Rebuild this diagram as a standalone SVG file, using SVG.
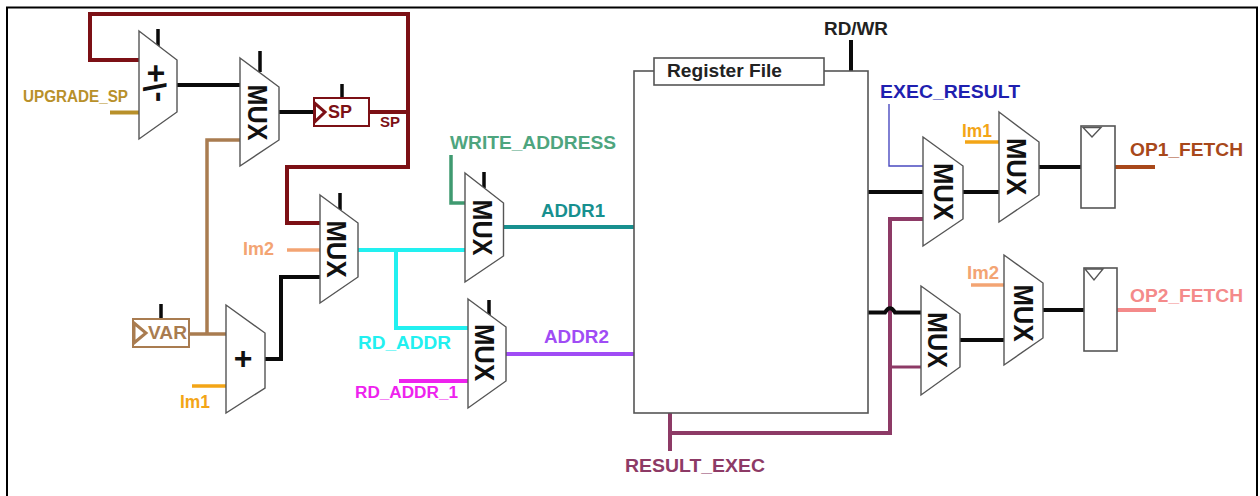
<svg xmlns="http://www.w3.org/2000/svg" width="1260" height="496" viewBox="0 0 1260 496">
<style>
text{font-family:"Liberation Sans",Arial,sans-serif;font-weight:700;font-size:17.5px}
.mux{fill:#fff;stroke:#555;stroke-width:1.4;stroke-linejoin:miter}
.box{fill:#fff;stroke:#555;stroke-width:1.6}
.mt{font-size:27px;fill:#111;text-anchor:middle}
.c{fill:none;stroke-linejoin:miter}
.k{stroke:#0a0a0a;stroke-width:4}
.t{stroke:#0a0a0a;stroke-width:3.5}
.r{stroke:#7c1015;stroke-width:4}
.b{stroke:#a97c50;stroke-width:3.5}
.y{stroke:#b8902a;stroke-width:4}
.o{stroke:#f3a516;stroke-width:3.5}
.p{stroke:#f3a473;stroke-width:3.5}
.a{stroke:#22f0f0;stroke-width:4}
.g{stroke:#3f9a70;stroke-width:3.5}
.e{stroke:#17908f;stroke-width:4}
.v{stroke:#a04cf5;stroke-width:4}
.m{stroke:#ee22ee;stroke-width:4}
.x{stroke:#8d3a66;stroke-width:4}
.u{stroke:#4a4ac0;stroke-width:1.4}
</style>
<rect width="1260" height="496" fill="#fff"/>
<path id="frame" d="M7 496V7.500H1257V496" fill="none" stroke="#000" stroke-width="2"/>
<g id="connectors">
<path class="c r" d="M139 60H90V14H408V167H287V223H320"/>
<path class="c r" d="M369 112H408"/>
<path class="c k" d="M177 85H240M279 112H316"/>
<path class="c y" d="M110 112.500H139"/>
<path class="c b" d="M240 140H207V334M189 334H227"/>
<path class="c o" d="M192 386H226"/>
<path class="c p" d="M287 250H320"/>
<path class="c k" d="M265 359H281V277H320"/>
<path class="c a" d="M356 250H466M396 250V328H469"/>
<path class="c g" d="M451 155V203H465"/>
<path class="c e" d="M503 227H634"/>
<path class="c v" d="M506 354H634"/>
<path class="c m" d="M399 381H468"/>
<path class="c k" d="M851 40V71"/>
<path class="c u" d="M889 104V166H923"/>
<path class="c k" d="M868 192H923M963 192H999M1039 167H1083"/>
<path class="c x" d="M923 219H890V433H671M670 413V451"/>
<path class="c x" style="stroke-width:3" d="M890 367H921"/>
<path class="c k" d="M868 312.500H885Q890 304 895 312.500H921M960 340H1004M1043 310H1084"/>
<path class="c o" d="M965 142H999"/>
<path class="c p" d="M971 285H1004"/>
<path class="c" stroke="#a8481a" stroke-width="4" d="M1115 167H1155"/>
<path class="c" stroke="#f48a8a" stroke-width="4" d="M1116 310H1156"/>
<path class="c t" d="M158 29V46M260 51V72M342 84V99M340 193V210M161 304V320M484 172V188M489 300V315"/>
</g>
<g id="addsub"><path class="mux" d="M139 31L177 60V112L139 139Z"/>
<text transform="matrix(0 1 1 0 166 64)" style="font-size:32px" fill="#111">+/-</text></g>
<g id="mux1"><path class="mux" d="M240 58L279 87V140L240 166Z"/><text class="mt" textLength="56" lengthAdjust="spacingAndGlyphs" transform="translate(248 112.500) rotate(90)">MUX</text></g>
<g id="sp"><rect class="box" style="stroke:#7c1015;stroke-width:2" x="314" y="98" width="55" height="28"/>
<path d="M314.500 103L325 112L314.500 122Z" fill="none" stroke="#7c1015" stroke-width="3"/>
<text x="328" y="118" textLength="24" lengthAdjust="spacingAndGlyphs" fill="#7c1015">SP</text>
<text x="380" y="127" textLength="20" lengthAdjust="spacingAndGlyphs" style="font-size:14px" fill="#7c1015">SP</text></g>
<g id="mux2"><path class="mux" d="M320 195L358 223V277L320 303Z"/><text class="mt" textLength="57" lengthAdjust="spacingAndGlyphs" transform="translate(327 249) rotate(90)">MUX</text></g>
<g id="mux3"><path class="mux" d="M465 173L503.500 203V256L465 282Z"/><text class="mt" textLength="56" lengthAdjust="spacingAndGlyphs" transform="translate(473 227.500) rotate(90)">MUX</text></g>
<g id="mux4"><path class="mux" d="M468 299L506 327V381L468 408Z"/><text class="mt" textLength="57" lengthAdjust="spacingAndGlyphs" transform="translate(475 352.500) rotate(90)">MUX</text></g>
<g id="var"><rect class="box" style="stroke:#a97c50;stroke-width:2" x="133" y="319" width="56" height="28"/>
<path d="M134 323L146 333L134 343Z" fill="none" stroke="#a97c50" stroke-width="3"/>
<text x="148" y="339" textLength="39" lengthAdjust="spacingAndGlyphs" fill="#a97c50">VAR</text></g>
<g id="adder"><path class="mux" d="M226 305L265 333V388L226 413Z"/><text x="243" y="368.500" style="font-size:32px" text-anchor="middle" fill="#111">+</text></g>
<g id="regfile"><rect class="box" x="634" y="71" width="234" height="342"/>
<rect class="box" x="654" y="58" width="170" height="27"/>
<text x="667" y="76.500" textLength="115" lengthAdjust="spacingAndGlyphs" fill="#222">Register File</text></g>
<g id="mux5"><path class="mux" d="M923 137L963 166V219L923 246Z"/><text class="mt" textLength="57" lengthAdjust="spacingAndGlyphs" transform="translate(934 191.500) rotate(90)">MUX</text></g>
<g id="mux6"><path class="mux" d="M999 112L1039 142V195L999 222Z"/><text class="mt" textLength="57" lengthAdjust="spacingAndGlyphs" transform="translate(1007 166.500) rotate(90)">MUX</text></g>
<g id="mux7"><path class="mux" d="M921 286L960 314V367L921 395Z"/><text class="mt" textLength="56" lengthAdjust="spacingAndGlyphs" transform="translate(928 340) rotate(90)">MUX</text></g>
<g id="mux8"><path class="mux" d="M1004 255L1043 283V338L1004 365Z"/><text class="mt" textLength="57" lengthAdjust="spacingAndGlyphs" transform="translate(1014 313) rotate(90)">MUX</text></g>
<g id="ff1"><rect class="box" x="1081" y="126" width="34" height="82"/><path d="M1083 127.500H1101L1092 137Z" fill="none" stroke="#555" stroke-width="1.400"/></g>
<g id="ff2"><rect class="box" x="1084" y="268" width="33" height="83"/><path d="M1085 269H1103L1094 280Z" fill="none" stroke="#555" stroke-width="1.400"/></g>
<g id="labels">
<text x="23" y="102" textLength="105" lengthAdjust="spacingAndGlyphs" style="font-size:16px" fill="#b8902a">UPGRADE_SP</text>
<text x="243" y="255" textLength="31" lengthAdjust="spacingAndGlyphs" fill="#f3a473">Im2</text>
<text x="180" y="408" textLength="30" lengthAdjust="spacingAndGlyphs" fill="#f3a516">Im1</text>
<text x="450" y="149" textLength="166" lengthAdjust="spacingAndGlyphs" fill="#4ea57e">WRITE_ADDRESS</text>
<text x="541" y="217" textLength="64" lengthAdjust="spacingAndGlyphs" fill="#17908f">ADDR1</text>
<text x="544" y="343" textLength="65" lengthAdjust="spacingAndGlyphs" fill="#a04cf5">ADDR2</text>
<text x="358" y="349" textLength="93" lengthAdjust="spacingAndGlyphs" fill="#22f0f0">RD_ADDR</text>
<text x="355" y="398" textLength="103" lengthAdjust="spacingAndGlyphs" style="font-size:16px" fill="#ee22ee">RD_ADDR_1</text>
<text x="824" y="35" textLength="64" lengthAdjust="spacingAndGlyphs" fill="#222">RD/WR</text>
<text x="880" y="98" textLength="140" lengthAdjust="spacingAndGlyphs" fill="#1f1fb0">EXEC_RESULT</text>
<text x="962" y="137" textLength="30" lengthAdjust="spacingAndGlyphs" fill="#f3a516">Im1</text>
<text x="967" y="279" textLength="32" lengthAdjust="spacingAndGlyphs" fill="#f3a473">Im2</text>
<text x="1130" y="156" textLength="113" lengthAdjust="spacingAndGlyphs" fill="#a8481a">OP1_FETCH</text>
<text x="1130" y="302" textLength="113" lengthAdjust="spacingAndGlyphs" fill="#f48a8a">OP2_FETCH</text>
<text x="625" y="472" textLength="140" lengthAdjust="spacingAndGlyphs" fill="#8d3a66">RESULT_EXEC</text>
</g>
</svg>
